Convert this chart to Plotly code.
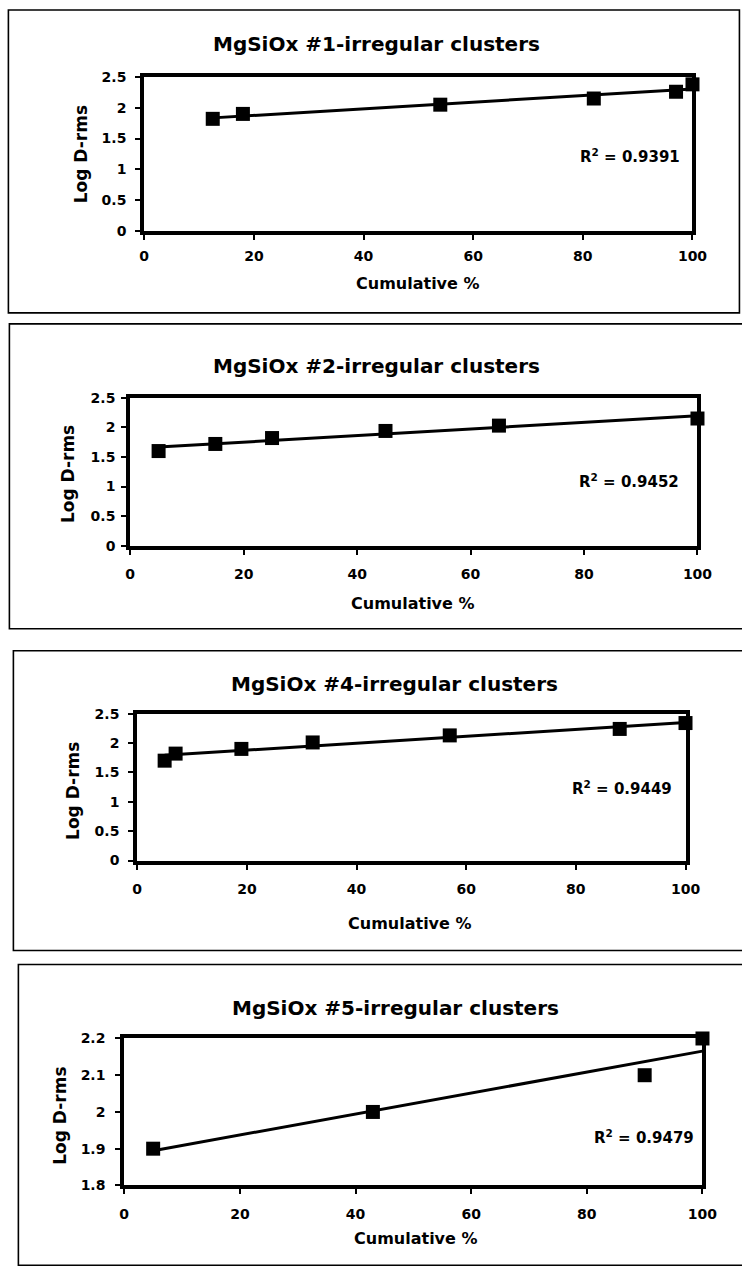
import numpy as np
import plotly.graph_objects as go

# ---------------- data ----------------
titles = ["MgSiOx #1-irregular clusters", "MgSiOx #2-irregular clusters",
          "MgSiOx #4-irregular clusters", "MgSiOx #5-irregular clusters"]
r2_labels = ["0.9391", "0.9452", "0.9449", "0.9479"]

x1 = [12.5, 18, 54, 82, 97, 100]
y1 = [1.82, 1.90, 2.05, 2.15, 2.26, 2.38]

x2 = [5, 15, 25, 45, 65, 100]
y2 = [1.60, 1.72, 1.82, 1.94, 2.03, 2.15]

x4 = [5, 7, 19, 32, 57, 88, 100]
y4 = [1.70, 1.82, 1.90, 2.01, 2.13, 2.24, 2.34]

x5 = [5, 43, 90, 100]
y5 = [1.90, 2.00, 2.10, 2.20]

series = [(x1, y1), (x2, y2), (x4, y4), (x5, y5)]
y_ranges = [(0, 2.5), (0, 2.5), (0, 2.5), (1.8, 2.2)]
y_dticks = [0.5, 0.5, 0.5, 0.1]
x_range = (0, 100)
x_dtick = 20
x_title = "Cumulative %"
y_title = "Log D-rms"

# ---------------- layout (reference-image pixels) ----------------
plot_boxes = [(144, 76, 693, 230), (130, 397, 698, 545),
              (137, 713, 686, 860), (124, 1038, 703, 1185)]
outer_boxes = [(8, 9, 740, 312), (9, 323, 750, 628),
               (13, 650, 750, 950), (18, 964, 750, 1265)]
title_pos = [(377, 43), (377, 365), (395, 683), (396, 1007)]
xtitle_pos = [(418, 283), (413, 603), (410, 923), (416, 1238)]
ytitle_pos = [(81, 153), (67, 473), (72, 790), (60, 1115)]
r2_pos = [(682, 155), (681, 480), (674, 787), (697, 1137)]
x_standoff = [4, 7, 8, 8]
y_standoff = [6, 3, 6, 7]

# the capture maps page px to picture px with a small scale + offset
SX, OX, SY, OY = 0.975, 4.6, 0.988, 7.0
W, H = 761, 1281


def px(x):
    return ((x - OX) / SX) / W


def py(y):
    return 1 - ((y - OY) / SY) / H


FONT = "DejaVu Sans"
fig = go.Figure()
annotations = []
shapes = []

for i, ((xs, ys), pb) in enumerate(zip(series, plot_boxes)):
    n = "" if i == 0 else str(i + 1)
    xa, ya = "x" + n, "y" + n
    # data markers
    fig.add_trace(go.Scatter(x=xs, y=ys, mode="markers", xaxis=xa, yaxis=ya,
                             marker=dict(symbol="square", size=14, color="black"),
                             cliponaxis=False, showlegend=False))
    # linear trendline (least squares, as in the original spreadsheet)
    k, b = np.polyfit(xs, ys, 1)
    tx = [min(xs), max(xs)]
    fig.add_trace(go.Scatter(x=tx, y=[k * v + b for v in tx], mode="lines",
                             xaxis=xa, yaxis=ya, line=dict(color="black", width=3),
                             cliponaxis=False, showlegend=False))
    x0, yt, x1p, yb = pb
    fig.update_layout(**{
        "xaxis" + n: dict(domain=[px(x0), px(x1p)], range=list(x_range), dtick=x_dtick,
                          tick0=0, anchor=ya, showline=True, linecolor="black",
                          linewidth=4, mirror=True, ticks="outside", ticklen=5,
                          tickwidth=2, tickcolor="black", showgrid=False,
                          zeroline=False, ticklabelstandoff=x_standoff[i],
                          tickfont=dict(family=FONT, size=14, color="black",
                                        weight="bold")),
        "yaxis" + n: dict(domain=[py(yb), py(yt)], range=list(y_ranges[i]),
                          dtick=y_dticks[i], tick0=y_ranges[i][0], anchor=xa,
                          showline=True, linecolor="black", linewidth=4, mirror=True,
                          ticks="outside", ticklen=5, tickwidth=2, tickcolor="black",
                          showgrid=False, zeroline=False,
                          ticklabelstandoff=y_standoff[i],
                          tickfont=dict(family=FONT, size=14, color="black",
                                        weight="bold")),
    })
    ox0, oy0, ox1, oy1 = outer_boxes[i]
    shapes.append(dict(type="rect", xref="paper", yref="paper",
                       x0=px(ox0), x1=px(ox1), y0=py(oy1), y1=py(oy0),
                       line=dict(color="black", width=1.6), layer="below"))
    tx_, ty_ = title_pos[i]
    annotations.append(dict(text=titles[i], x=px(tx_), y=py(ty_), xref="paper",
                            yref="paper", showarrow=False, xanchor="center",
                            yanchor="middle",
                            font=dict(family=FONT, size=20, color="black",
                                      weight="bold")))
    ax_, ay_ = xtitle_pos[i]
    annotations.append(dict(text=x_title, x=px(ax_), y=py(ay_), xref="paper",
                            yref="paper", showarrow=False, xanchor="center",
                            yanchor="middle",
                            font=dict(family=FONT, size=16, color="black",
                                      weight="bold")))
    yx_, yy_ = ytitle_pos[i]
    annotations.append(dict(text=y_title, x=px(yx_), y=py(yy_), xref="paper",
                            yref="paper", showarrow=False, xanchor="center",
                            yanchor="middle", textangle=-90,
                            font=dict(family=FONT, size=17, color="black",
                                      weight="bold")))
    rx_, ry_ = r2_pos[i]
    annotations.append(dict(text="R<sup>2</sup> = " + r2_labels[i], x=px(rx_),
                            y=py(ry_), xref="paper", yref="paper", showarrow=False,
                            xanchor="right", yanchor="middle",
                            font=dict(family=FONT, size=15, color="black",
                                      weight="bold")))

fig.update_layout(width=W, height=H, margin=dict(l=0, r=0, t=0, b=0),
                  paper_bgcolor="white", plot_bgcolor="white", showlegend=False,
                  annotations=annotations, shapes=shapes)

post = ("var d=document.documentElement;d.style.margin='0';d.style.padding='0';"
        "d.style.overflow='hidden';document.body.style.margin='0';"
        "document.body.style.padding='0';document.body.style.overflow='hidden';"
        "var g=document.getElementsByClassName('plotly-graph-div')[0];"
        "g.style.position='absolute';g.style.left='0px';g.style.top='0px';")

fig.write_html("out.html", config={"displayModeBar": False}, post_script=post)
